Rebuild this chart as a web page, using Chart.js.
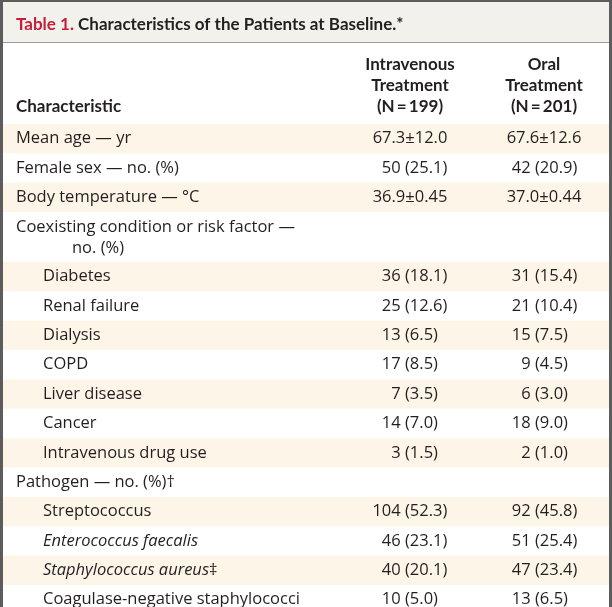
<!DOCTYPE html>
<html>
<head>
<meta charset="utf-8">
<script src="https://cdn.jsdelivr.net/npm/chart.js@4/dist/chart.umd.min.js"></script>
<style>
  html, body { margin: 0; padding: 0; background: #fff; }
</style>
</head>
<body>
<canvas id="chart" width="612" height="607"></canvas>
<script>
// table content
const titleLead = "Table 1.";
const titleRest = "Characteristics of the Patients at Baseline.*";
const stubHead = "Characteristic";
const ivHead = ["Intravenous", "Treatment", "(N\u2009=\u2009199)"];
const oralHead = ["Oral", "Treatment", "(N\u2009=\u2009201)"];

const rowLabels = [
  "Mean age \u2014 yr",
  "Female sex \u2014 no. (%)",
  "Body temperature \u2014 \u00b0C",
  "Coexisting condition or risk factor \u2014\nno. (%)",
  "Diabetes",
  "Renal failure",
  "Dialysis",
  "COPD",
  "Liver disease",
  "Cancer",
  "Intravenous drug use",
  "Pathogen \u2014 no. (%)\u2020",
  "Streptococcus",
  "_Enterococcus faecalis_",
  "_Staphylococcus aureus_\u2021",
  "Coagulase-negative staphylococci"
];
const rowLevel = [0, 0, 0, 0, 1, 1, 1, 1, 1, 1, 1, 0, 1, 1, 1, 1];

const ivValues = [
  "67.3\u00b112.0", "50 (25.1)", "36.9\u00b10.45", "",
  "36 (18.1)", "25 (12.6)", "13 (6.5)", "17 (8.5)", "7 (3.5)", "14 (7.0)", "3 (1.5)",
  "", "104 (52.3)", "46 (23.1)", "40 (20.1)", "10 (5.0)"
];
const oralValues = [
  "67.6\u00b112.6", "42 (20.9)", "37.0\u00b10.44", "",
  "31 (15.4)", "21 (10.4)", "15 (7.5)", "9 (4.5)", "6 (3.0)", "18 (9.0)", "2 (1.0)",
  "", "92 (45.8)", "51 (25.4)", "47 (23.4)", "13 (6.5)"
];

// layout / style
const BODY_FONT = "16.5px 'Open Sans'";
const ITALIC_FONT = "italic 16.5px 'Open Sans'";
const HEAD_FONT = "bold 17px Lato";
const INK = "#231f20";
const RED = "#c41e3a";
const STRIPE = "#fdf5e7";
const BAND = "#f2f1eb";
const FRAME = "#5c5c5c";
const TWO_LINE_H = 1.7;
const COLS = { stub: 16, indent: 43, iv: 410, ivAnchor: 405, oral: 544, oralAnchor: 535 };

// row bounds in row units
const rowTop = [];
const rowMid = [];
let acc = 0;
rowLabels.forEach((lab) => {
  const h = lab.includes("\n") ? TWO_LINE_H : 1;
  rowTop.push(acc);
  rowMid.push(acc + h / 2);
  acc += h;
});

const stripeData = rowMid
  .map((m, i) => (i % 2 === 0 ? { y: m, x: [0, 1] } : null))
  .filter((d) => d);

function drawRich(ctx, text, x, y) {
  // _italic_ segments
  const parts = text.split("_");
  let cx = x;
  parts.forEach((p, i) => {
    if (!p) return;
    ctx.font = i % 2 === 1 ? ITALIC_FONT : BODY_FONT;
    ctx.textAlign = "left";
    ctx.fillText(p, cx, y);
    cx += ctx.measureText(p).width;
  });
}

function drawValue(ctx, val, center, anchor, y) {
  if (!val) return;
  ctx.font = BODY_FONT;
  const k = val.indexOf(" (");
  if (k < 0) {
    ctx.textAlign = "center";
    ctx.fillText(val, center, y);
    return;
  }
  ctx.textAlign = "right";
  ctx.fillText(val.slice(0, k + 1), anchor, y);
  ctx.textAlign = "left";
  ctx.fillText(val.slice(k + 1), anchor, y);
}

const tablePlugin = {
  id: "tableText",
  beforeDraw(chart) {
    const ctx = chart.ctx;
    ctx.save();
    ctx.fillStyle = "#fff";
    ctx.fillRect(0, 0, chart.width, chart.height);
    // title band
    ctx.fillStyle = BAND;
    ctx.fillRect(0, 0, chart.width, 42);
    ctx.fillStyle = "#9a9a96";
    ctx.fillRect(0, 42, chart.width, 1);
    ctx.restore();
  },
  afterDatasetsDraw(chart) {
    const ctx = chart.ctx;
    const y = chart.scales.y;
    ctx.save();
    ctx.fillStyle = INK;
    ctx.textBaseline = "middle";

    rowLabels.forEach((lab, i) => {
      const x = rowLevel[i] ? COLS.indent : COLS.stub;
      const lines = lab.split("\n");
      if (lines.length === 1) {
        drawRich(ctx, lab, x, y.getPixelForValue(rowMid[i]));
      } else {
        const top = y.getPixelForValue(rowTop[i]);
        drawRich(ctx, lines[0], x, top + 15);
        drawRich(ctx, lines[1], COLS.stub + 56, top + 36);
      }
      drawValue(ctx, ivValues[i], COLS.iv, COLS.ivAnchor, y.getPixelForValue(rowMid[i]));
      drawValue(ctx, oralValues[i], COLS.oral, COLS.oralAnchor, y.getPixelForValue(rowMid[i]));
    });

    // title
    ctx.textBaseline = "alphabetic";
    ctx.textAlign = "left";
    ctx.font = HEAD_FONT;
    ctx.fillStyle = RED;
    ctx.fillText(titleLead, COLS.stub, 30);
    const w = ctx.measureText(titleLead + " ").width;
    ctx.fillStyle = INK;
    ctx.fillText(titleRest, COLS.stub + w, 30);

    // column heads
    ctx.fillText(stubHead, COLS.stub, 112);
    ctx.textAlign = "center";
    [70, 91, 112].forEach((by, k) => {
      ctx.fillText(ivHead[k], COLS.iv, by);
      ctx.fillText(oralHead[k], COLS.oral, by);
    });

    // frame
    ctx.fillStyle = FRAME;
    ctx.fillRect(0, 0, chart.width, 2);
    ctx.fillRect(0, 0, 3, chart.height);
    ctx.fillRect(chart.width - 3, 0, 3, chart.height);
    ctx.restore();
  }
};

new Chart(document.getElementById("chart"), {
  type: "bar",
  data: {
    datasets: [
      {
        label: "stripes",
        data: stripeData,
        backgroundColor: STRIPE,
        borderWidth: 0,
        barPercentage: 0.5,
        categoryPercentage: 1
      }
    ]
  },
  options: {
    indexAxis: "y",
    responsive: false,
    animation: false,
    layout: { padding: { top: 124, left: 3, right: 3, bottom: 0 } },
    plugins: { legend: { display: false }, tooltip: { enabled: false } },
    scales: {
      x: { type: "linear", min: 0, max: 1, display: false, offset: false },
      y: {
        type: "linear",
        reverse: true,
        offset: false,
        min: 0,
        max: 16.45,
        display: false,
        grid: { offset: false },
        ticks: { stepSize: 2, includeBounds: false }
      }
    }
  },
  plugins: [tablePlugin]
});
</script>
</body>
</html>
